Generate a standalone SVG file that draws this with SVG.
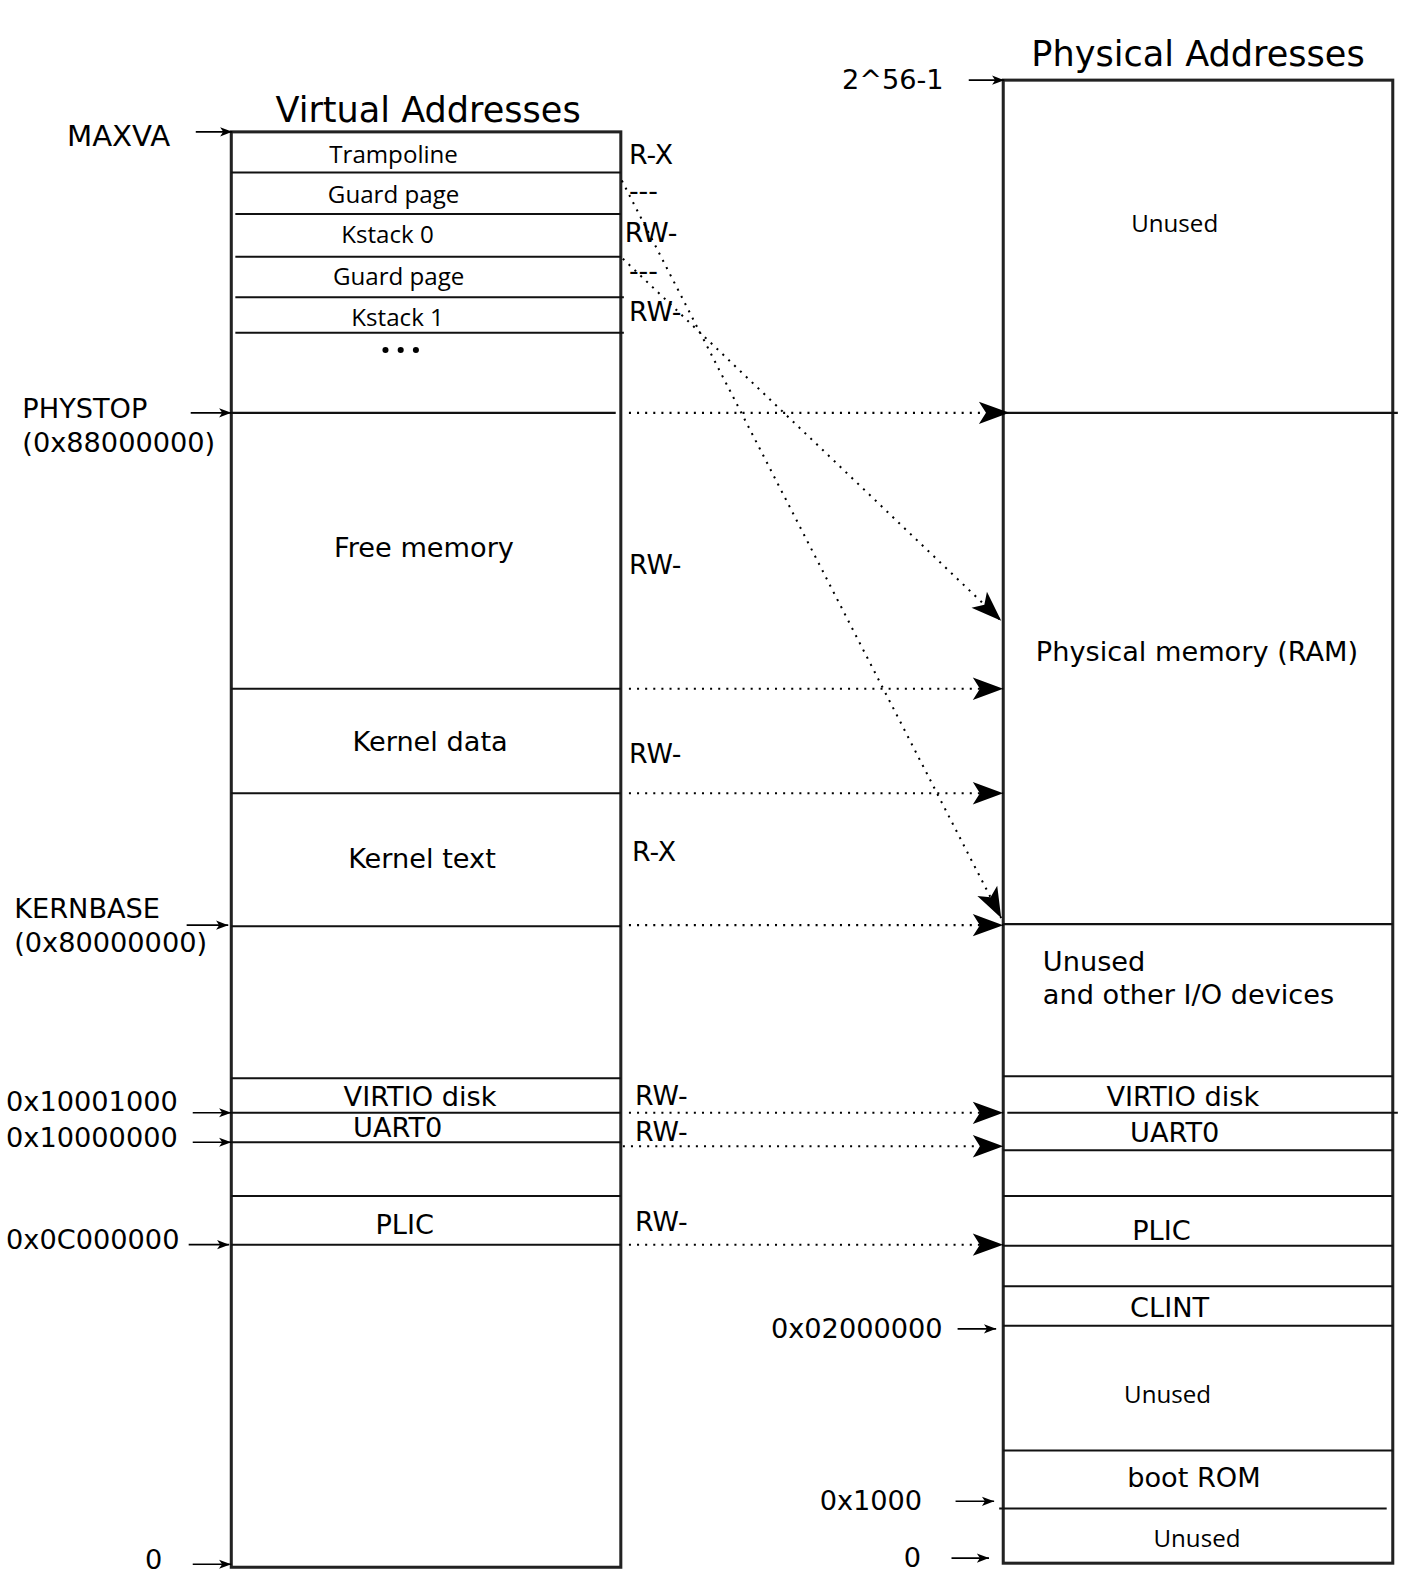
<svg xmlns="http://www.w3.org/2000/svg" width="1406" height="1590" viewBox="0 0 1406 1590">
<style>
.t{font-family:"DejaVu Sans",sans-serif;font-size:26.8px;fill:#000}
.h{font-family:"DejaVu Sans",sans-serif;font-size:34.6px;fill:#000}
.p{font-family:"DejaVu Sans",sans-serif;font-size:26.4px;fill:#000}
.s{font-family:"Open Sans","Noto Sans",sans-serif;font-size:23.8px;fill:#000}
.mx{font-size:28.8px}
.m{text-anchor:middle}
.box{fill:none;stroke:#222;stroke-width:3}
.ln{stroke:#111;stroke-width:2;fill:none}
.lbl{stroke:#000;stroke-width:1.6;fill:none;marker-end:url(#sa)}
.dot{stroke:#000;stroke-width:2;stroke-dasharray:2 6;fill:none;marker-end:url(#ba)}
</style>
<defs>
<marker id="sa" markerUnits="userSpaceOnUse" markerWidth="16" markerHeight="12" refX="14" refY="6" orient="auto" viewBox="0 0 16 12">
<path d="M2,1.5 L14,6 L2,10.5 L5,6 Z" fill="#000"/>
</marker>
<marker id="ba" markerUnits="userSpaceOnUse" markerWidth="34" markerHeight="26" refX="32" refY="13" orient="auto" viewBox="0 0 34 26">
<path d="M2,2 L32,13 L2,24 L9,13 Z" fill="#000"/>
</marker>
</defs>

<g transform="scale(1.0144)">
<g id="titles">
<text class="h m" x="422" y="120">Virtual Addresses</text>
<text class="h m" x="1181" y="65">Physical Addresses</text>
</g>

<g id="virtual">
<rect class="box" x="228" y="130" width="384" height="1415"/>
<line class="ln" x1="228" y1="170" x2="612" y2="170"/>
<line class="ln" x1="232" y1="211" x2="612" y2="211"/>
<line class="ln" x1="232" y1="253" x2="612" y2="253"/>
<line class="ln" x1="232" y1="293" x2="615" y2="293"/>
<line class="ln" x1="232" y1="328" x2="615" y2="328"/>
<line class="ln" x1="228" y1="407" x2="607" y2="407"/>
<line class="ln" x1="228" y1="679" x2="612" y2="679"/>
<line class="ln" x1="228" y1="782" x2="612" y2="782"/>
<line class="ln" x1="228" y1="913" x2="612" y2="913"/>
<line class="ln" x1="228" y1="1063" x2="612" y2="1063"/>
<line class="ln" x1="228" y1="1097" x2="612" y2="1097"/>
<line class="ln" x1="228" y1="1126" x2="612" y2="1126"/>
<line class="ln" x1="228" y1="1179" x2="612" y2="1179"/>
<line class="ln" x1="228" y1="1227" x2="612" y2="1227"/>
<text class="s m" x="388" y="161">Trampoline</text>
<text class="s m" x="388" y="200">Guard page</text>
<text class="s m" x="382" y="240">Kstack 0</text>
<text class="s m" x="393" y="281">Guard page</text>
<text class="s m" x="392" y="321">Kstack 1</text>
<circle cx="380" cy="345" r="3"/><circle cx="395" cy="345" r="3"/><circle cx="410" cy="345" r="3"/>
<text class="t m" x="418" y="549">Free memory</text>
<text class="t m" x="424" y="740">Kernel data</text>
<text class="t m" x="416" y="856">Kernel text</text>
<text class="t m" x="414" y="1090">VIRTIO disk</text>
<text class="t m" x="392" y="1121">UART0</text>
<text class="t m" x="399" y="1216">PLIC</text>
</g>

<g id="perms">
<text class="p" x="620" y="162">R-X</text>
<text class="p" x="620" y="197">---</text>
<text class="p" x="616" y="239">RW-</text>
<text class="p" x="620" y="276">---</text>
<text class="p" x="620" y="316">RW-</text>
<text class="p" x="620" y="566">RW-</text>
<text class="p" x="620" y="752">RW-</text>
<text class="p" x="623" y="849">R-X</text>
<text class="p" x="626" y="1089">RW-</text>
<text class="p" x="626" y="1125">RW-</text>
<text class="p" x="626" y="1214">RW-</text>
</g>

<g id="physical">
<rect class="box" x="989" y="79" width="384" height="1462"/>
<line class="ln" x1="989" y1="407" x2="1378" y2="407"/>
<line class="ln" x1="989" y1="911" x2="1373" y2="911"/>
<line class="ln" x1="989" y1="1061" x2="1373" y2="1061"/>
<line class="ln" x1="993" y1="1097" x2="1378" y2="1097"/>
<line class="ln" x1="989" y1="1134" x2="1373" y2="1134"/>
<line class="ln" x1="989" y1="1179" x2="1373" y2="1179"/>
<line class="ln" x1="989" y1="1228" x2="1373" y2="1228"/>
<line class="ln" x1="989" y1="1268" x2="1373" y2="1268"/>
<line class="ln" x1="989" y1="1307" x2="1373" y2="1307"/>
<line class="ln" x1="989" y1="1430" x2="1373" y2="1430"/>
<line class="ln" x1="985" y1="1487" x2="1367" y2="1487"/>
<text class="s m" x="1158" y="229">Unused</text>
<text class="t m" x="1180" y="652">Physical memory (RAM)</text>
<text class="t" x="1028" y="957">Unused</text>
<text class="t" x="1028" y="990">and other I/O devices</text>
<text class="t m" x="1166" y="1090">VIRTIO disk</text>
<text class="t m" x="1158" y="1126">UART0</text>
<text class="t m" x="1145" y="1222">PLIC</text>
<text class="t m" x="1153" y="1298">CLINT</text>
<text class="s m" x="1151" y="1383">Unused</text>
<text class="t m" x="1177" y="1466">boot ROM</text>
<text class="s m" x="1180" y="1525">Unused</text>
</g>

<g id="addr-labels">
<text class="t mx" x="66" y="144">MAXVA</text>
<text class="t" x="22" y="412">PHYSTOP</text>
<text class="t" x="22" y="446">(0x88000000)</text>
<text class="t" x="14" y="905">KERNBASE</text>
<text class="t" x="14" y="938">(0x80000000)</text>
<text class="t" x="6" y="1095">0x10001000</text>
<text class="t" x="6" y="1131">0x10000000</text>
<text class="t" x="6" y="1231">0x0C000000</text>
<text class="t" x="143" y="1547">0</text>
<text class="t" x="830" y="88">2^56-1</text>
<text class="t" x="760" y="1319">0x02000000</text>
<text class="t" x="808" y="1489">0x1000</text>
<text class="t" x="891" y="1545">0</text>
</g>

<g id="connectors">
<line class="lbl" x1="193" y1="130" x2="229" y2="130"/>
<line class="lbl" x1="188" y1="407" x2="228" y2="407"/>
<line class="lbl" x1="184" y1="912" x2="225" y2="912"/>
<line class="lbl" x1="190" y1="1097" x2="228" y2="1097"/>
<line class="lbl" x1="190" y1="1126" x2="228" y2="1126"/>
<line class="lbl" x1="186" y1="1227" x2="226" y2="1227"/>
<line class="lbl" x1="190" y1="1542" x2="228" y2="1542"/>
<line class="lbl" x1="955" y1="79" x2="990" y2="79"/>
<line class="lbl" x1="944" y1="1310" x2="982" y2="1310"/>
<line class="lbl" x1="942" y1="1480" x2="980" y2="1480"/>
<line class="lbl" x1="938" y1="1536" x2="975" y2="1536"/>

<line class="dot" x1="620" y1="407" x2="995" y2="407"/>
<line class="dot" x1="620" y1="679" x2="989" y2="679"/>
<line class="dot" x1="620" y1="782" x2="989" y2="782"/>
<line class="dot" x1="620" y1="912" x2="989" y2="912"/>
<line class="dot" x1="620" y1="1097" x2="989" y2="1097"/>
<line class="dot" x1="614" y1="1130" x2="989" y2="1130"/>
<line class="dot" x1="620" y1="1227" x2="989" y2="1227"/>
<line class="dot" x1="613" y1="178" x2="987" y2="905"/>
<line class="dot" x1="614" y1="255" x2="987" y2="612"/>
</g>
</g>
</svg>
